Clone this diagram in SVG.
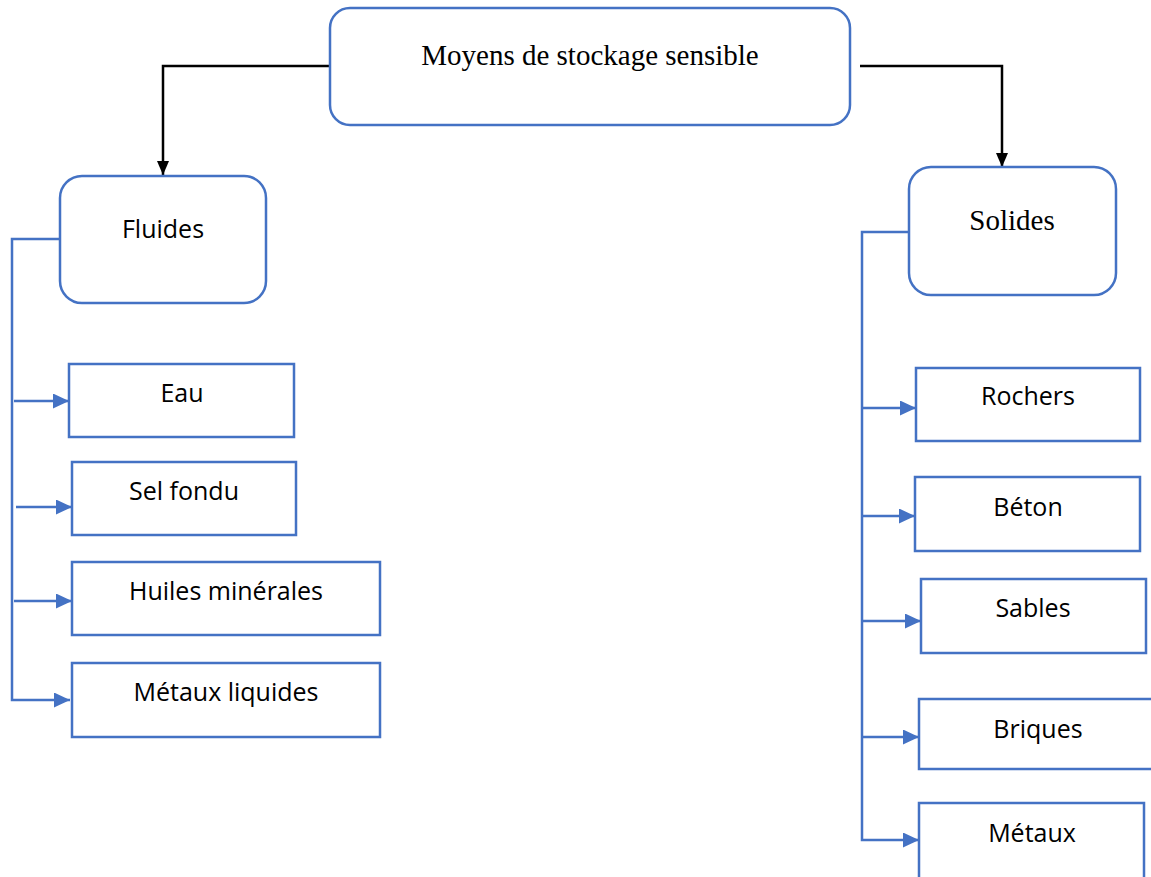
<svg xmlns="http://www.w3.org/2000/svg" width="1151" height="877" viewBox="0 0 1151 877">
  <defs>
    <marker id="arrow-black" viewBox="0 0 14 12" refX="14" refY="6" markerWidth="14" markerHeight="12" markerUnits="userSpaceOnUse" orient="auto">
      <path d="M0,0 L14,6 L0,12 Z" fill="#000"/>
    </marker>
    <marker id="arrow-blue" viewBox="0 0 16 15" refX="16" refY="7.5" markerWidth="16" markerHeight="15" markerUnits="userSpaceOnUse" orient="auto">
      <path d="M0,0 L16,7.5 L0,15 Z" fill="#4472C4"/>
    </marker>
  </defs>
  <style>
    .box { fill: #fff; stroke: #4472C4; stroke-width: 2.5; }
    .serif { font-family: "Liberation Serif", "Times New Roman", serif; font-size: 29px; fill: #000; text-anchor: middle; }
    .sans { font-family: "Open Sans", "Noto Sans", sans-serif; font-size: 25px; fill: #000; text-anchor: middle; }
    .link-black { fill: none; stroke: #000; stroke-width: 2.5; }
    .link-blue { fill: none; stroke: #4472C4; stroke-width: 2.5; }
  </style>
  <rect width="1151" height="877" fill="#fff"/>

  <g id="connectors">
    <path class="link-black" d="M330,66 H163 V175" marker-end="url(#arrow-black)"/>
    <path class="link-black" d="M860,66 H1002 V167" marker-end="url(#arrow-black)"/>
    <!-- fluid branch -->
    <path class="link-blue" d="M60,239 H12 V700 H70" marker-end="url(#arrow-blue)"/>
    <path class="link-blue" d="M14,401 H69" marker-end="url(#arrow-blue)"/>
    <path class="link-blue" d="M16,507 H72" marker-end="url(#arrow-blue)"/>
    <path class="link-blue" d="M14,601 H72" marker-end="url(#arrow-blue)"/>
    <!-- solid branch -->
    <path class="link-blue" d="M909,232 H862 V840 H919" marker-end="url(#arrow-blue)"/>
    <path class="link-blue" d="M862,408 H916" marker-end="url(#arrow-blue)"/>
    <path class="link-blue" d="M862,516 H915" marker-end="url(#arrow-blue)"/>
    <path class="link-blue" d="M862,621 H921" marker-end="url(#arrow-blue)"/>
    <path class="link-blue" d="M862,737 H919" marker-end="url(#arrow-blue)"/>
  </g>

  <g id="root">
    <rect class="box" x="330" y="8" width="520" height="117" rx="20"/>
    <text class="serif" x="590" y="65">Moyens de stockage sensible</text>
  </g>

  <g id="fluides">
    <rect class="box" x="60" y="176" width="206" height="127" rx="22"/>
    <text class="sans" x="163" y="238">Fluides</text>
  </g>
  <g id="eau">
    <rect class="box" x="69" y="364" width="225" height="73"/>
    <text class="sans" x="182" y="402">Eau</text>
  </g>
  <g id="sel-fondu">
    <rect class="box" x="72" y="462" width="224" height="73"/>
    <text class="sans" x="184" y="500">Sel fondu</text>
  </g>
  <g id="huiles">
    <rect class="box" x="72" y="562" width="308" height="73"/>
    <text class="sans" x="226" y="600">Huiles minérales</text>
  </g>
  <g id="metaux-liquides">
    <rect class="box" x="72" y="663" width="308" height="74"/>
    <text class="sans" x="226" y="701">Métaux liquides</text>
  </g>

  <g id="solides">
    <rect class="box" x="909" y="167" width="207" height="128" rx="22"/>
    <text class="serif" x="1012" y="230">Solides</text>
  </g>
  <g id="rochers">
    <rect class="box" x="916" y="368" width="224" height="73"/>
    <text class="sans" x="1028" y="405">Rochers</text>
  </g>
  <g id="beton">
    <rect class="box" x="915" y="477" width="225" height="74"/>
    <text class="sans" x="1028" y="516">Béton</text>
  </g>
  <g id="sables">
    <rect class="box" x="921" y="579" width="225" height="74"/>
    <text class="sans" x="1033" y="617">Sables</text>
  </g>
  <g id="briques">
    <rect class="box" x="919" y="699" width="240" height="70"/>
    <text class="sans" x="1038" y="738">Briques</text>
  </g>
  <g id="metaux">
    <rect class="box" x="919" y="803" width="225" height="80"/>
    <text class="sans" x="1032" y="842">Métaux</text>
  </g>
</svg>
